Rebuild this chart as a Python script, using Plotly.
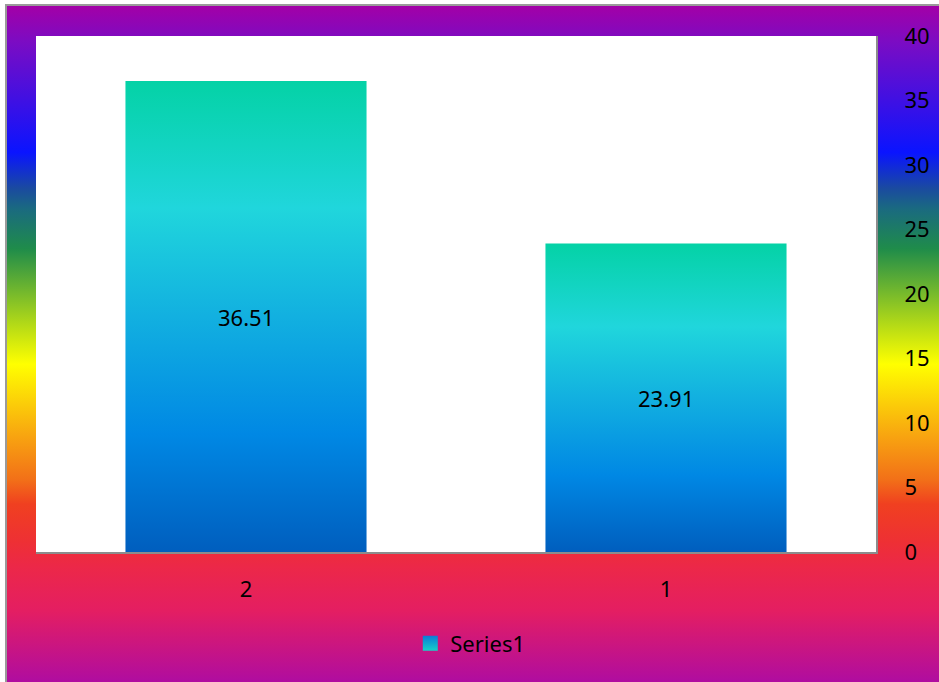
import base64
import plotly.graph_objects as go

# Chart data
categories = ["2", "1"]
values = [36.51, 23.91]
series_name = "Series1"
y_ticks = [0, 5, 10, 15, 20, 25, 30, 35, 40]

W, H = 939, 682
ML, MR, MT, MB = 36, 63, 36, 130
PW, PH = W - ML - MR, H - MT - MB

FONT = "Noto Sans, Open Sans, sans-serif"
FS = 22

# Rainbow background gradient (top -> bottom)
bg_stops = [
    (0.00, "#a400a6"), (0.056, "#7a0cc4"), (0.217, "#0a14ff"),
    (0.27, "#1a4aa0"), (0.30, "#1a6a80"), (0.359, "#1f8c4a"),
    (0.468, "#b0d818"), (0.529, "#ffff00"), (0.635, "#f8a410"),
    (0.699, "#f27018"), (0.735, "#f04020"), (0.79, "#ee3034"),
    (0.827, "#ec2848"), (0.892, "#e41e62"), (1.00, "#ae0ca2"),
]
stops_svg = "".join(
    f'<stop offset="{o}" stop-color="{c}"/>' for o, c in bg_stops
)
svg = (
    '<svg xmlns="http://www.w3.org/2000/svg" width="100" height="100" '
    'preserveAspectRatio="none" viewBox="0 0 100 100">'
    '<defs><linearGradient id="g" x1="0" y1="0" x2="0" y2="1">'
    f"{stops_svg}</linearGradient></defs>"
    '<rect width="100" height="100" fill="url(#g)"/></svg>'
)
bg_uri = "data:image/svg+xml;base64," + base64.b64encode(svg.encode()).decode()

# Bar gradient, bottom (0) -> top (1)
bar_scale = [
    [0.0, "#005ebe"], [0.25, "#0088e4"], [0.5, "#12b0e0"],
    [0.73, "#20d6dc"], [1.0, "#04d2a6"],
]

half = 0.287  # half bar width in category units
fig = go.Figure()
for i, (cat, v) in enumerate(zip(categories, values)):
    fig.add_trace(go.Scatter(
        x=[i - half, i + half, i + half, i - half, i - half],
        y=[0, 0, v, v, 0],
        mode="lines",
        line=dict(width=0),
        fill="toself",
        fillgradient=dict(type="vertical", colorscale=bar_scale),
        name=series_name,
        showlegend=False,
        hoverinfo="skip",
    ))

# legend entry: small gradient square
fig.add_trace(go.Scatter(
    x=[None], y=[None],
    mode="markers",
    name=series_name,
    marker=dict(symbol="square", size=15, color="#0a7ad8",
                gradient=dict(type="vertical", color="#16d0c8"),
                line=dict(width=0)),
    showlegend=True,
))

annotations = [
    dict(x=i, y=v / 2, xref="x", yref="y", text=f"{v:.2f}",
         showarrow=False, yshift=0,
         font=dict(family=FONT, size=FS, color="#000000"))
    for i, v in enumerate(values)
]

# paper coordinates of the full chart area
x0 = (6 - ML) / PW
x1 = (W + 2 - ML) / PW
y_top = (H - MB - 5) / PH
y_bot = (H - MB - (H + 2)) / PH

fig.update_layout(
    width=W, height=H,
    margin=dict(l=ML, r=MR, t=MT, b=MB, pad=0),
    paper_bgcolor="#ffffff",
    plot_bgcolor="#ffffff",
    annotations=annotations,
    images=[dict(
        source=bg_uri, xref="paper", yref="paper",
        x=x0, y=y_top, sizex=x1 - x0, sizey=y_top - y_bot,
        xanchor="left", yanchor="top", sizing="stretch", layer="below",
    )],
    shapes=[
        dict(type="rect", xref="paper", yref="paper", x0=0, x1=1, y0=0, y1=1,
             fillcolor="#ffffff", line=dict(width=0), layer="below"),
        dict(type="rect", xref="paper", yref="paper", x0=x0, x1=x1 + 0.01,
             y0=y_bot - 0.01, y1=y_top,
             fillcolor="rgba(0,0,0,0)", line=dict(color="#9a9a9a", width=2),
             layer="above"),
    ],
    xaxis=dict(
        range=[-0.5, 1.5],
        tickmode="array", tickvals=list(range(len(categories))),
        ticktext=categories,
        showgrid=False, zeroline=False,
        showline=True, linecolor="#8c8c8c", linewidth=2,
        ticks="", ticklabelstandoff=17, automargin=False,
        tickfont=dict(family=FONT, size=FS, color="#000000"),
        fixedrange=True,
    ),
    yaxis=dict(
        range=[0, 40], side="right",
        tickmode="array", tickvals=y_ticks,
        showgrid=False, zeroline=False,
        showline=True, linecolor="#8c8c8c", linewidth=2,
        ticks="", ticklabelstandoff=22, automargin=False,
        tickfont=dict(family=FONT, size=FS, color="#000000"),
        fixedrange=True,
    ),
    legend=dict(
        orientation="h", x=0.517, xanchor="center", y=-0.177, yanchor="middle",
        bgcolor="rgba(0,0,0,0)",
        font=dict(family=FONT, size=FS, color="#000000"),
        itemwidth=30,
    ),
    showlegend=True,
)

fig.write_html("out.html")
